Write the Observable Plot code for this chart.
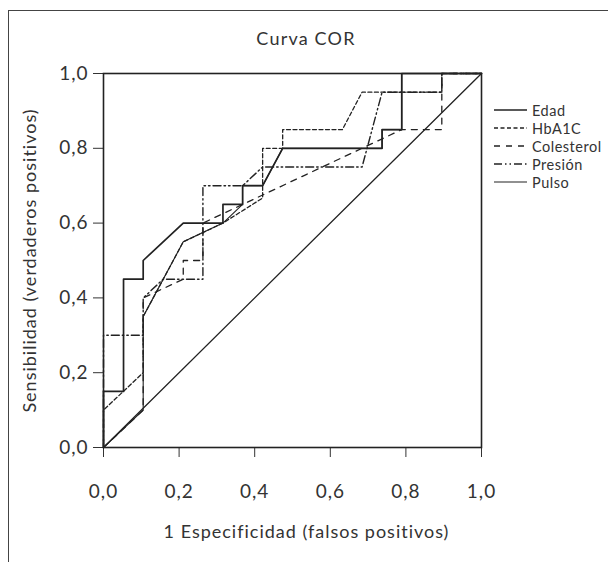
<!DOCTYPE html>
<html><head><meta charset="utf-8">
<script src="https://cdn.jsdelivr.net/npm/d3@7"></script>
<script src="https://cdn.jsdelivr.net/npm/@observablehq/plot@0.6"></script>
<style>
body{margin:0;background:#fff;}
#wrap{position:relative;width:608px;height:562px;font-family:Lato,sans-serif;color:#333;overflow:hidden;background:#fff}
#outer{position:absolute;left:8px;top:10px;right:-4px;bottom:-4px;border-left:1.5px solid #444;border-top:1.5px solid #444;pointer-events:none}
#title{position:absolute;left:0;width:612px;top:27px;text-align:center;font-size:18px;letter-spacing:1.2px;color:#333}
#legend{position:absolute;left:494px;top:101px;font-size:14.5px;letter-spacing:0.5px;color:#333}
.row{height:18px;display:flex;align-items:center;white-space:nowrap}
.row svg{width:33px;height:10px;margin-right:5px;flex:none}
svg text{letter-spacing:1px}
</style></head><body>
<div id="wrap"><div id="title">Curva COR</div><div id="legend"></div><div id="outer"></div></div>
<script>
// ROC curve data (1 - especificidad, sensibilidad)
const seriesNames = ["Edad", "HbA1C", "Colesterol", "Presión", "Pulso"];
const edadX = [0, 0, 0.053, 0.053, 0.105, 0.105, 0.211, 0.316, 0.316, 0.368, 0.368, 0.421, 0.474, 0.737, 0.737, 0.789, 0.789, 1];
const edadY = [0, 0.15, 0.15, 0.45, 0.45, 0.50, 0.60, 0.60, 0.65, 0.65, 0.70, 0.70, 0.80, 0.80, 0.85, 0.85, 1, 1];
const hbX = [0, 0, 0.105, 0.105, 0.211, 0.316, 0.421, 0.421, 0.474, 0.474, 0.632, 0.684, 0.895, 0.895, 1];
const hbY = [0, 0.10, 0.20, 0.35, 0.55, 0.60, 0.667, 0.80, 0.80, 0.85, 0.85, 0.95, 0.95, 1, 1];
const colX = [0, 0.105, 0.105, 0.211, 0.211, 0.263, 0.263, 0.789, 0.895, 0.895, 1];
const colY = [0, 0.10, 0.40, 0.45, 0.50, 0.50, 0.60, 0.85, 0.85, 1, 1];
const presX = [0, 0, 0.105, 0.105, 0.158, 0.263, 0.263, 0.368, 0.421, 0.526, 0.684, 0.737, 0.895, 0.895, 1];
const presY = [0, 0.30, 0.30, 0.40, 0.45, 0.45, 0.70, 0.70, 0.75, 0.75, 0.75, 0.95, 0.95, 1, 1];
const pulX = [0, 0.105, 0.105, 0.211, 0.316, 0.368, 0.368, 0.421, 0.474, 0.737, 0.737, 0.789, 0.789, 1];
const pulY = [0, 0.10, 0.35, 0.55, 0.60, 0.65, 0.70, 0.70, 0.80, 0.80, 0.85, 0.85, 1, 1];
const refX = [0, 1];
const refY = [0, 1];
const axisTicks = [0, 0.2, 0.4, 0.6, 0.8, 1.0];
const tickLabels = ["0,0", "0,2", "0,4", "0,6", "0,8", "1,0"];
const xTitle = "1 Especificidad (falsos positivos)";
const yTitle = "Sensibilidad (verdaderos positivos)";

const xs = [edadX, hbX, colX, presX, pulX];
const ys = [edadY, hbY, colY, presY, pulY];
const styles = {
  "Edad": {dash: null, w: 1.7},
  "HbA1C": {dash: "4,2.5", w: 1.3},
  "Colesterol": {dash: "6,6", w: 1.3},
  "Presión": {dash: "8,3,1.5,3,1.5,3", w: 1.4},
  "Pulso": {dash: null, w: 1.1}
};
const fmt = d => tickLabels[axisTicks.findIndex(t => Math.abs(t - d) < 1e-9)];

const lineMarks = seriesNames.map((name, i) => {
  const data = xs[i].map((x, j) => ({x, y: ys[i][j]}));
  return Plot.line(data, {x: "x", y: "y", stroke: "#222", strokeWidth: styles[name].w,
    strokeDasharray: styles[name].dash || undefined, curve: "linear"});
});
const refData = refX.map((x, j) => ({x, y: refY[j]}));

const plot = Plot.plot({
  width: 608, height: 562,
  marginLeft: 103, marginRight: 127, marginTop: 73, marginBottom: 115,
  style: {fontFamily: "Lato, sans-serif", fontSize: "19px", color: "#333", background: "transparent", overflow: "visible"},
  x: {domain: [0, 1], ticks: axisTicks, tickFormat: fmt, tickSize: 10, tickPadding: 27, label: null},
  y: {domain: [0, 1], ticks: axisTicks, tickFormat: fmt, tickSize: 10, tickPadding: 5, label: null},
  marks: [
    Plot.line(refData, {x: "x", y: "y", stroke: "#222", strokeWidth: 1.3}),
    ...lineMarks,
    Plot.frame({stroke: "#222", strokeWidth: 1.6}),
    Plot.text([xTitle], {frameAnchor: "bottom", dy: 90, dx: 14, fontSize: 18, fill: "#333"}),
    Plot.text([yTitle], {frameAnchor: "left", rotate: -90, textAnchor: "middle", dx: -73, fontSize: 18, fill: "#333"})
  ]
});
plot.style.position = "absolute";
plot.style.left = "0px";
plot.style.top = "0px";
document.getElementById("wrap").prepend(plot);

const legend = document.getElementById("legend");
seriesNames.forEach(name => {
  const row = document.createElement("div");
  row.className = "row";
  const st = styles[name];
  row.innerHTML = `<svg viewBox="0 0 33 10"><line x1="0" y1="5" x2="33" y2="5" stroke="#222" stroke-width="${st.w}" ${st.dash ? `stroke-dasharray="${st.dash}"` : ""}/></svg><span>${name}</span>`;
  legend.appendChild(row);
});
</script>
</body></html>
